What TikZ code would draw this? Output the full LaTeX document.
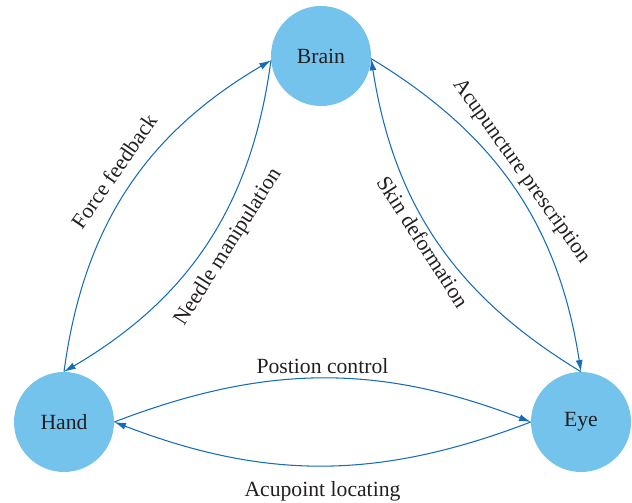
\documentclass[tikz,border=0pt]{standalone}
\usepackage{fontspec}
\setmainfont{Liberation Serif}
\usetikzlibrary{arrows.meta}
\definecolor{organblue}{RGB}{115,195,237}
\definecolor{linkblue}{RGB}{22,108,184}
\definecolor{inkgray}{RGB}{35,31,32}

\begin{document}
\begin{tikzpicture}[x=0.03cm,y=0.03cm,
  organ/.style={circle,fill=organblue,minimum size=3cm,inner sep=0pt,text=inkgray,font=\fontsize{18.5}{21}\selectfont},
  link/.style={draw=linkblue,line width=0.9pt,->,>={Latex[length=10pt,width=6pt]}},
  lab/.style={sloped,text=inkgray,font=\fontsize{18.5}{21}\selectfont}]
\useasboundingbox (0,0) rectangle (632,503);
\node[organ] (brain) at (321,447) {Brain};
\node[organ] (hand) at (64,81) {Hand};
\node[organ] (eye) at (581,81) {Eye};
% hand <-> brain
\draw[link] (hand.90) to[bend left=26] node[lab,above=8pt,pos=0.52] {Force feedback} (brain.185);
\draw[link] (brain.185) to[bend left=26] node[lab,below=5pt,pos=0.48] {Needle manipulation} (hand.90);
% brain <-> eye
\draw[link] (brain.-3) to[bend left=25] node[lab,above=1pt,pos=0.47] {Acupuncture prescription} (eye.90);
\draw[link] (eye.90) to[bend left=25] node[lab,below,pos=0.52] {Skin deformation} (brain.-3);
% hand <-> eye
\draw[link] (hand.0) to[bend left=21] node[lab,above] {Postion control} (eye.180);
\draw[link] (eye.180) to[bend left=21] node[lab,below=10pt] {Acupoint locating} (hand.0);
\end{tikzpicture}
\end{document}
